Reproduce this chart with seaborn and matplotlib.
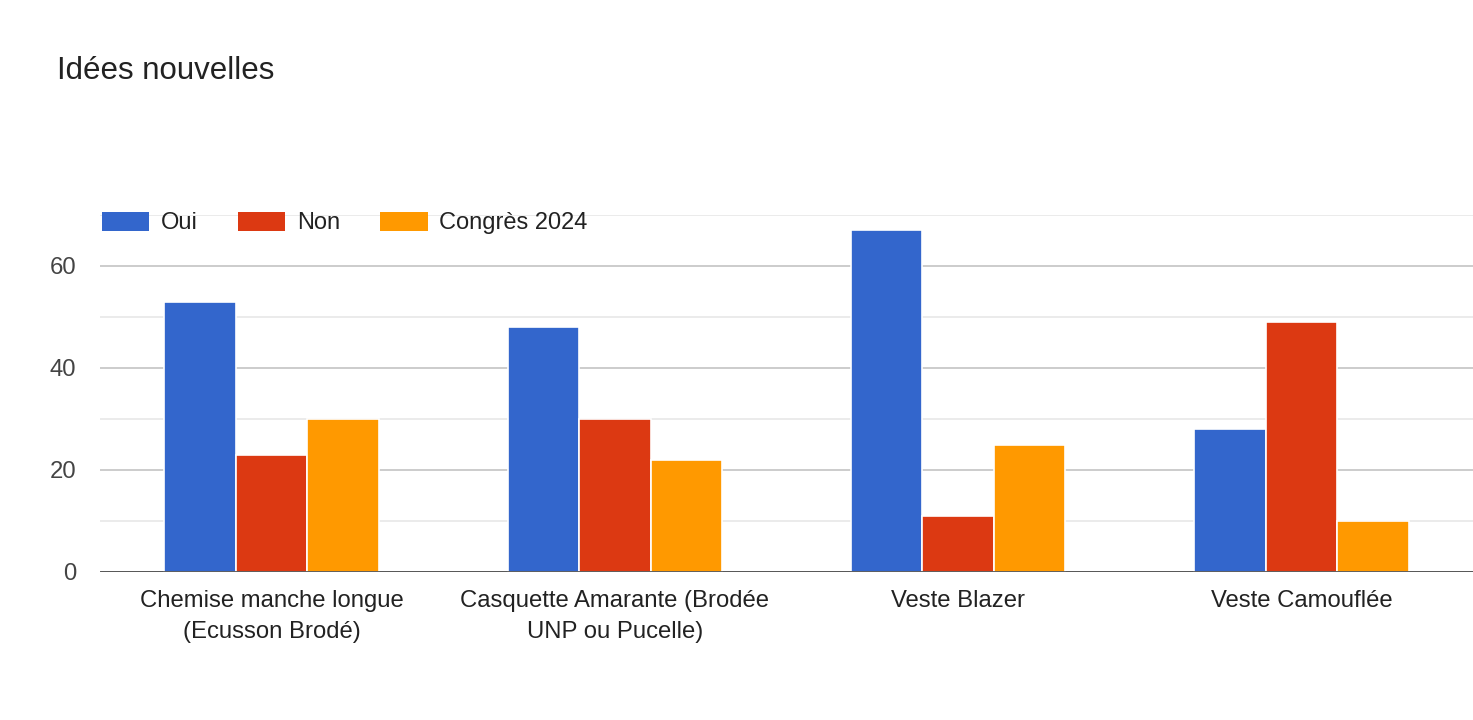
import matplotlib
matplotlib.use("Agg")
import matplotlib.pyplot as plt
import seaborn as sns
import pandas as pd
from matplotlib.patches import Patch

categories = ["Chemise manche longue\n(Ecusson Brodé)",
              "Casquette Amarante (Brodée\nUNP ou Pucelle)",
              "Veste Blazer",
              "Veste Camouflée"]
series = ["Oui", "Non", "Congrès 2024"]
oui = [53, 48, 67, 28]
non = [23, 30, 11, 49]
congres = [30, 22, 25, 10]
colors = ["#3366CC", "#DC3912", "#FF9900"]

rows = []
for c, a, b, d in zip(categories, oui, non, congres):
    rows.append((c, series[0], a))
    rows.append((c, series[1], b))
    rows.append((c, series[2], d))
df = pd.DataFrame(rows, columns=["cat", "serie", "val"])

sns.set_theme(style="white")
plt.rcParams["font.family"] = ["Liberation Sans", "DejaVu Sans"]

W, H = 1473, 720
fig = plt.figure(figsize=(W / 100, H / 100), dpi=100)
ax = fig.add_axes([100 / W, 1 - 572 / H, 1 - 100 / W, (572 - 215) / H])

sns.barplot(data=df, x="cat", y="val", hue="serie", hue_order=series,
            order=categories, palette=colors, width=0.625, ax=ax,
            edgecolor="white", linewidth=1.2, saturation=1, legend=False,
            errorbar=None, zorder=3)

FS = 17.2
ax.set_xlim(-0.5, 3.5)
ax.set_ylim(0, 70)
ax.set_yticks([0, 20, 40, 60])
ax.set_yticks([10, 30, 50, 70], minor=True)
ax.grid(axis="y", which="major", color="#cccccc", linewidth=1.4, zorder=0)
ax.grid(axis="y", which="minor", color="#ebebeb", linewidth=1.4, zorder=0)
ax.set_axisbelow(True)
for s in ax.spines.values():
    s.set_visible(False)
ax.axhline(0, color="#333333", linewidth=1.8, zorder=5)
ax.tick_params(axis="y", which="both", length=0, pad=17, labelsize=FS, labelcolor="#444444")
ax.tick_params(axis="x", length=0, pad=13, labelsize=FS, labelcolor="#222222")
for t in ax.get_xticklabels():
    t.set_linespacing(1.5)
ax.set_xlabel("")
ax.set_ylabel("")

fig.text(57 / W, 1 - 71 / H, "Idées nouvelles", fontsize=22.5, color="#222222",
         va="center", ha="left")

handles = [Patch(facecolor=c, edgecolor="none") for c in colors]
fig.legend(handles, series, loc="center left", bbox_to_anchor=(102 / W, 1 - 223 / H),
           ncol=3, frameon=False, fontsize=17, handlelength=2.0, handleheight=0.9,
           handletextpad=0.5, columnspacing=1.7, borderpad=0, borderaxespad=0,
           labelcolor="#222222")

fig.savefig("out.png", dpi=100, facecolor="white")
